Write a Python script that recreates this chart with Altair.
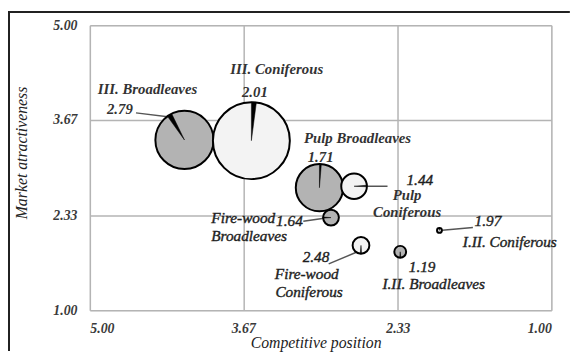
import altair as alt
import pandas as pd

# ---- bubble (pie) data ----
names = ["III. Broadleaves", "III. Coniferous", "Pulp Broadleaves", "Pulp Coniferous",
         "Fire-wood Broadleaves", "Fire-wood Coniferous", "I.II. Broadleaves", "I.II. Coniferous"]
comp_pos = [4.18, 3.60, 3.01, 2.71, 2.91, 2.65, 2.31, 1.97]
market_attr = [3.39, 3.38, 2.72, 2.74, 2.30, 1.91, 1.82, 2.12]
volume = [870, 1521, 576, 169, 64, 72, 36, 6]
group = ["Broadleaves", "Coniferous", "Broadleaves", "Coniferous",
         "Broadleaves", "Coniferous", "Broadleaves", "Coniferous"]
share = [2.79, 2.01, 1.71, 1.44, 1.64, 2.48, 1.19, 1.97]
# slice start / end angles (radians, clockwise from 12 o'clock)
slice_start = [5.66, 0.00, 0.00, 1.49, 4.64, 3.07, 3.05, 0.00]
slice_end = [5.83, 0.13, 0.08, 1.61, 4.78, 3.23, 3.22, 0.12]

# ---- annotation texts ----
label_text = ["III. Broadleaves", "2.79", "III. Coniferous", "2.01", "Pulp Broadleaves", "1.71",
              "1.44", "Pulp", "Coniferous", "Fire-wood", "Broadleaves", "1.64",
              "2.48", "Fire-wood", "Coniferous", "1.97", "I.II. Coniferous", "1.19", "I.II. Broadleaves"]
label_x = [4.50, 4.74, 3.38, 3.57, 2.68, 3.00,
           2.14, 2.25, 2.25, 3.67, 3.62, 3.27,
           3.04, 3.12, 3.10, 1.55, 1.36, 2.12, 2.02]
label_y = [4.11, 3.82, 4.39, 4.06, 3.42, 3.15,
           2.83, 2.62, 2.38, 2.30, 2.04, 2.25,
           1.75, 1.51, 1.26, 2.25, 1.96, 1.60, 1.37]
label_bold = [True, True, True, True, True, True,
              False, True, True, False, False, False,
              False, False, False, False, False, False, False]

# ---- leader lines ----
lead_x1 = [4.60, 2.60, 3.15, 2.93, 1.97]
lead_x2 = [4.29, 2.42, 2.97, 2.68, 1.68]
lead_y1 = [3.77, 2.74, 2.25, 1.65, 2.12]
lead_y2 = [3.71, 2.74, 2.29, 1.82, 2.16]

ticks = [5.00, 3.67, 2.33, 1.00]

bubbles = pd.DataFrame({
    "name": names, "x": comp_pos, "y": market_attr, "vol": volume,
    "group": group, "share": share, "t1": slice_start, "t2": slice_end,
})
bubbles["full0"] = 0.0
bubbles["full1"] = 6.2832
labels = pd.DataFrame({"text": label_text, "x": label_x, "y": label_y, "bold": label_bold})
leaders = pd.DataFrame({"x": lead_x1, "x2": lead_x2, "y": lead_y1, "y2": lead_y2})

FONT = "Liberation Serif"

xscale = alt.Scale(domain=[5, 1], nice=False, zero=False)
yscale = alt.Scale(domain=[1, 5], nice=False, zero=False)
rscale = alt.Scale(type="sqrt", zero=True, domain=[0, 1521], range=[0, 39])

xenc = alt.X("x:Q", scale=xscale, axis=alt.Axis(
    values=ticks, format=".2f", title="Competitive position", grid=True,
    gridColor="#b4b4b4", gridWidth=1.5, ticks=False, domain=False,
    labelFont=FONT, labelFontStyle="italic", labelFontWeight="bold", labelFontSize=14,
    labelColor="#3a3a3a", labelPadding=12,
    titleFont=FONT, titleFontStyle="italic", titleFontWeight="normal", titleFontSize=16,
    titleColor="#222222", titleX=229, titleY=33, titleBaseline="middle"))
yenc = alt.Y("y:Q", scale=yscale, axis=alt.Axis(
    values=ticks, format=".2f", title="Market atractiveness", grid=True,
    gridColor="#b4b4b4", gridWidth=1.5, ticks=False, domain=False,
    labelFont=FONT, labelFontStyle="italic", labelFontWeight="bold", labelFontSize=14,
    labelColor="#3a3a3a", labelPadding=13,
    titleFont=FONT, titleFontStyle="italic", titleFontWeight="normal", titleFontSize=16,
    titleColor="#222222", titleX=-69, titleY=129, titleAngle=-90, titleBaseline="middle"))

circles = alt.Chart(bubbles).mark_arc(stroke="black", strokeWidth=2).encode(
    x=xenc, y=yenc,
    radius=alt.Radius("vol:Q", scale=rscale),
    theta=alt.Theta("full0:Q", scale=None),
    theta2="full1:Q",
    fill=alt.Fill("group:N", scale=alt.Scale(domain=["Broadleaves", "Coniferous"],
                                             range=["#b3b3b3", "#f3f3f3"]), legend=None),
)

slices = alt.Chart(bubbles).mark_arc(fill="black", stroke="black", strokeWidth=0.5).encode(
    x=alt.X("x:Q", scale=xscale), y=alt.Y("y:Q", scale=yscale),
    radius=alt.Radius("vol:Q", scale=rscale),
    theta=alt.Theta("t1:Q", scale=None),
    theta2="t2:Q",
)

lead = alt.Chart(leaders).mark_rule(color="#555555", strokeWidth=1.5).encode(
    x=alt.X("x:Q", scale=xscale), x2="x2:Q",
    y=alt.Y("y:Q", scale=yscale), y2="y2:Q",
)

text_enc = dict(x=alt.X("x:Q", scale=xscale), y=alt.Y("y:Q", scale=yscale), text="text:N")
texts_bold = alt.Chart(labels).transform_filter("datum.bold").mark_text(
    font=FONT, fontStyle="italic", fontWeight="bold", fontSize=15, color="#333333",
    align="center", baseline="middle",
).encode(**text_enc)
texts_norm = alt.Chart(labels).transform_filter("!datum.bold").mark_text(
    font=FONT, fontStyle="italic", fontWeight="normal", fontSize=15.5, color="#1e1e1e",
    stroke="#1e1e1e", strokeWidth=0.4,
    align="center", baseline="middle",
).encode(**text_enc)

frame_left = alt.Chart(labels).mark_rule(color="#222222", strokeWidth=1.5).encode(
    x=alt.value(-82.25), y=alt.value(-13.5), y2=alt.value(330))
frame_top = alt.Chart(labels).mark_rule(color="#222222", strokeWidth=1.5).encode(
    x=alt.value(-82.25), x2=alt.value(486), y=alt.value(-13.5))

chart = alt.layer(lead, circles, slices, texts_bold, texts_norm, frame_left, frame_top).properties(
    width=468, height=289,
    autosize=alt.AutoSizeParams(type="none"),
    padding={"left": 83, "top": 15, "right": 26, "bottom": 48},
).configure_view(stroke="#b4b4b4", strokeWidth=1.5).configure(background="white")

chart.save("out.html", embed_options={"renderer": "svg", "actions": False})
